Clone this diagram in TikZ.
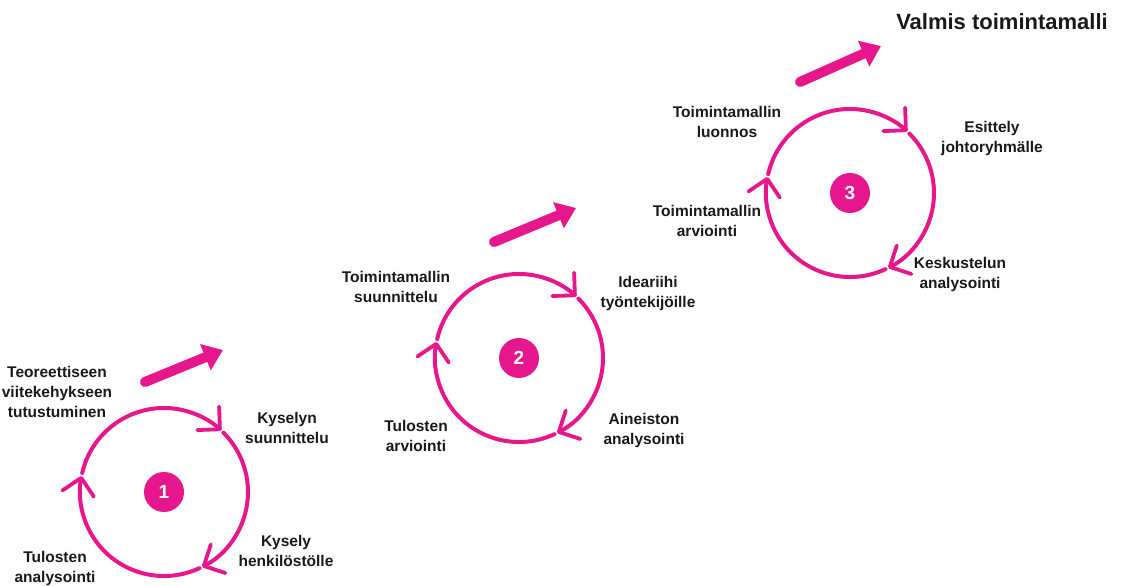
\documentclass[tikz,border=0pt]{standalone}
\usepackage{fontspec}
\setmainfont{Liberation Sans}
\usetikzlibrary{arrows.meta,calc}
\definecolor{pink}{RGB}{230,22,140}
\begin{document}
\begin{tikzpicture}[x=1pt,y=1pt,
  label/.style={font=\fontsize{15.5}{20}\selectfont\bfseries, align=center, text=black!90},
  ring/.style={draw=pink, line width=4pt, line cap=round,
    -{Straight Barb[length=16pt, width=32pt, line width=3.8pt, round]}},
  numdot/.style={circle, fill=pink, minimum size=40pt, inner sep=0pt,
    text=white, font=\fontsize{19}{19}\selectfont\bfseries},
  stepup/.style={draw=pink, line width=10pt, line cap=round,
    -{Triangle[length=19pt, width=27pt]}}]
\useasboundingbox (0,0) rectangle (1124,586);

% cycle centres
\coordinate (c1) at (164,94);
\coordinate (c2) at (519,228);
\coordinate (c3) at (850,393);

% three arrowed arcs per cycle, running clockwise
\foreach \c in {c1,c2,c3}{
  \draw[ring] ($(\c)+(167:84)$) arc[start angle=167, end angle=47, radius=84];
  \draw[ring] ($(\c)+(45:84)$) arc[start angle=45, end angle=-63, radius=84];
  \draw[ring] ($(\c)+(-65:84)$) arc[start angle=-65, end angle=-191, radius=84];
}

\node[numdot] (n1) at (c1) {1};
\node[numdot] (n2) at (c2) {2};
\node[numdot] (n3) at (c3) {3};

% rising arrows between the cycles
\coordinate (a1s) at (145,204); \coordinate (a1e) at (223,236);
\coordinate (a2s) at (494,344); \coordinate (a2e) at (576,378);
\coordinate (a3s) at (800,504); \coordinate (a3e) at (881,540);
\draw[stepup] (a1s) -- (a1e);
\draw[stepup] (a2s) -- (a2e);
\draw[stepup] (a3s) -- (a3e);

% cycle 1
\node[label] (t11) at (57,194) {Teoreettiseen\\viitekehykseen\\tutustuminen};
\node[label] (t12) at (287,158) {Kyselyn\\suunnittelu};
\node[label] (t13) at (286,35) {Kysely\\henkilöstölle};
\node[label] (t14) at (55,18) {Tulosten\\analysointi};

% cycle 2
\node[label] (t21) at (396,299) {Toimintamallin\\suunnittelu};
\node[label] (t22) at (648,293) {Ideariihi\\työntekijöille};
\node[label] (t23) at (644,156) {Aineiston\\analysointi};
\node[label] (t24) at (416,150) {Tulosten\\arviointi};

% cycle 3
\node[label] (t31) at (727,464) {Toimintamallin\\luonnos};
\node[label] (t32) at (992,448) {Esittely\\johtoryhmälle};
\node[label] (t33) at (707,365) {Toimintamallin\\arviointi};
\node[label] (t34) at (960,312) {Keskustelun\\analysointi};

\node[font=\fontsize{22}{26}\selectfont\bfseries, text=black!90] (goal) at (1002,564) {Valmis toimintamalli};
\end{tikzpicture}
\end{document}
